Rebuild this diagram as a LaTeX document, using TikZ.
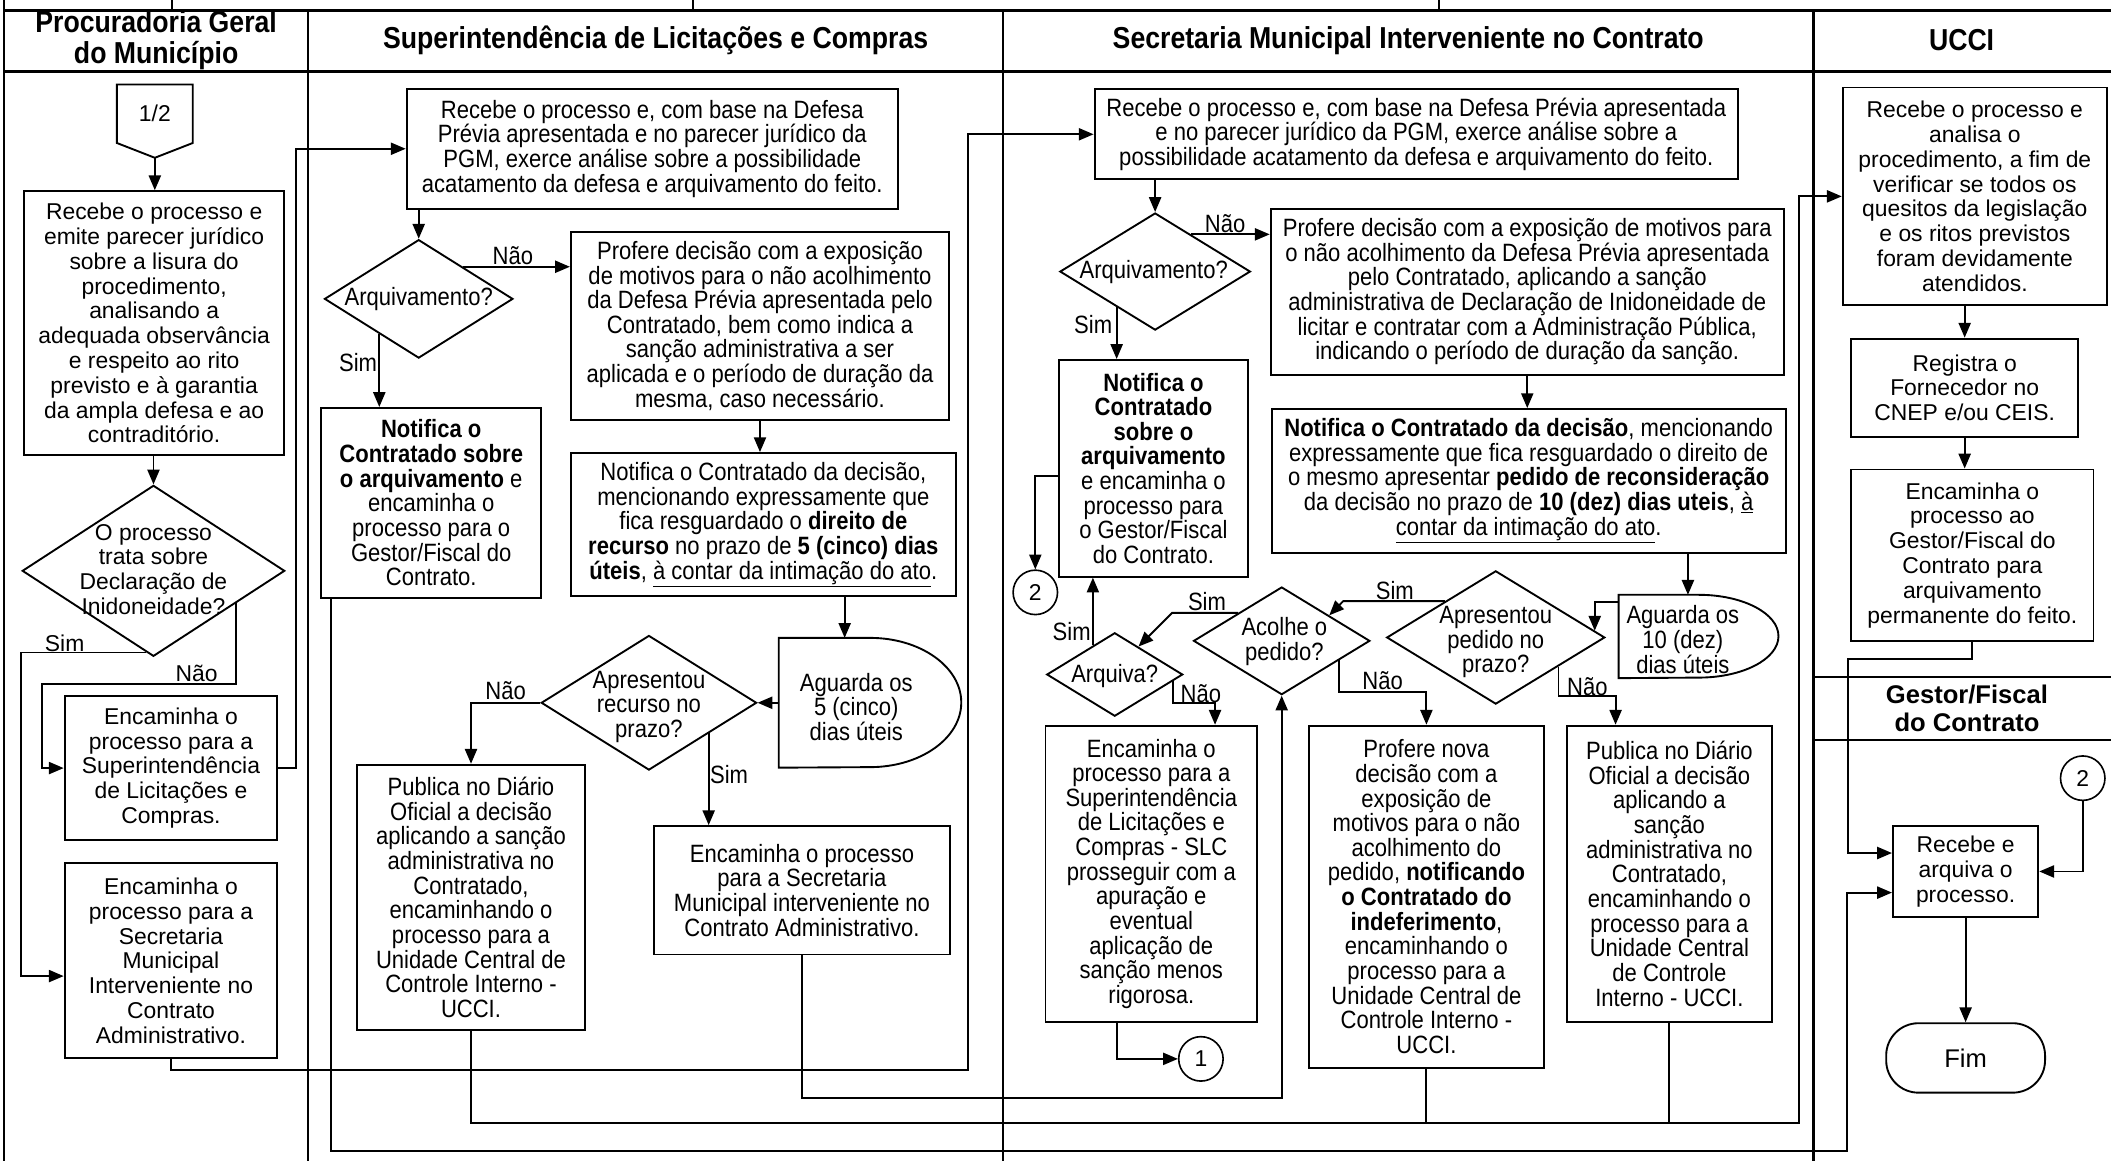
\documentclass[tikz,border=0pt]{standalone}
\usepackage{fontspec}
\setmainfont{Liberation Sans}
\newfontfamily\narrowfont[FakeStretch=0.88]{Liberation Sans}
\usetikzlibrary{arrows.meta,shapes.geometric,calc}
\newcommand\rfont{\fontsize{17}{18.4}\selectfont\lineskiplimit=-100pt\relax}
\newcommand\nfont{\narrowfont\fontsize{18.6}{18.3}\selectfont\lineskiplimit=-100pt\relax}
\newcommand\hfont{\narrowfont\bfseries\fontsize{22.5}{23}\selectfont\lineskiplimit=-100pt\relax}
\newcommand\gfont{\bfseries\fontsize{19}{21}\selectfont\lineskiplimit=-100pt\relax}
\tikzset{
  ln/.style={line width=1.4pt},
  box/.style={draw, rectangle, line width=1.4pt, inner sep=0pt, align=center, font=\nfont},
  pbox/.style={box, font=\rfont},
  dia/.style={draw, diamond, line width=1.4pt, inner sep=0pt},
  txt/.style={inner sep=0pt, align=center, font=\nfont},
  ptxt/.style={txt, font=\rfont},
  lbl/.style={inner sep=0pt, font=\nfont},
  plbl/.style={inner sep=0pt, font=\rfont},
  arr/.style={line width=1.4pt, -{Triangle[length=11pt,width=9pt]}},
  con/.style={line width=1.4pt},
  conn/.style={draw, circle, line width=1.2pt, minimum size=33pt, inner sep=0pt, font=\rfont},
  lane/.style={line width=1.5pt},
  hdrline/.style={line width=2pt},
}
\begin{document}
\begin{tikzpicture}[x=1pt,y=-1pt]
\useasboundingbox (0,0) rectangle (1568,862);
\fill[white] (0,0) rectangle (1568,862);

% ---------- swimlane frame ----------
\draw[hdrline] (3,8) -- (1568,8);
\draw[hdrline] (3,53) -- (1568,53);
\draw[lane] (3,0) -- (3,862);
\draw[lane] (128,0) -- (128,8);
\draw[lane] (515,0) -- (515,8);
\draw[lane] (1069,0) -- (1069,8);
\draw[lane] (229,8) -- (229,862);
\draw[lane] (745,8) -- (745,862);
\draw[lane] (1347,8) -- (1347,862);
\draw[lane] (1347,503) -- (1568,503);
\draw[lane] (1347,550) -- (1568,550);

\node[font=\hfont, align=center, inner sep=0pt] (hpgm) at (116,30) {Procuradoria Geral\\do Município};
\node[font=\hfont, inner sep=0pt] (hslc) at (487,30) {Superintendência de Licitações e Compras};
\node[font=\hfont, inner sep=0pt] (hsec) at (1046,30) {Secretaria Municipal Interveniente no Contrato};
\node[font=\hfont, inner sep=0pt] (hucci) at (1457,30) {UCCI};
\node[font=\gfont, align=center, inner sep=0pt] (hges) at (1461,526) {Gestor/Fiscal\\do Contrato};

% ---------- Procuradoria Geral do Município ----------
\node[inner sep=0pt, minimum width=56pt, minimum height=43pt, font=\rfont] (off12) at (115,84.5) {1/2};
\coordinate (off12tip) at ($(off12.south)+(0,11)$);
\draw[ln] (off12.north west) -- (off12.north east) -- (off12.south east) -- (off12tip) -- (off12.south west) -- cycle;

\node[pbox, minimum width=193pt, minimum height=196pt] (pgm1) at (114.5,240)
  {Recebe o processo e\\emite parecer jurídico\\sobre a lisura do\\procedimento,\\analisando a\\adequada observância\\e respeito ao rito\\previsto e à garantia\\da ampla defesa e ao\\contraditório.};
\node[dia, minimum width=195pt, minimum height=127pt] (d1) at (114,424) {};
\node[ptxt] (d1t) at (114,423) {O processo\\trata sobre\\Declaração de\\Inidoneidade?};
\node[pbox, minimum width=158pt, minimum height=107pt] (pgm2) at (127,570.5)
  {Encaminha o\\processo para a\\Superintendência\\de Licitações e\\Compras.};
\node[pbox, minimum width=158pt, minimum height=145pt] (pgm3) at (127,713.5)
  {Encaminha o\\processo para a\\Secretaria\\Municipal\\Interveniente no\\Contrato\\Administrativo.};
\node[plbl] (lpgm1) at (48,477.6) {Sim};
\node[plbl] (lpgm2) at (146,500) {Não};

% ---------- Superintendência de Licitações e Compras ----------
\node[box, minimum width=365pt, minimum height=89pt] (slc1) at (484.5,110.5)
  {Recebe o processo e, com base na Defesa\\Prévia apresentada e no parecer jurídico da\\PGM, exerce análise sobre a possibilidade\\acatamento da defesa e arquivamento do feito.};
\node[dia, minimum width=140pt, minimum height=88pt] (slcd1) at (311,222) {};
\node[txt] (slcd1t) at (311,222) {Arquivamento?};
\node[box, minimum width=281pt, minimum height=140pt] (slc2) at (564.5,242)
  {Profere decisão com a exposição\\de motivos para o não acolhimento\\da Defesa Prévia apresentada pelo\\Contratado, bem como indica a\\sanção administrativa a ser\\aplicada e o período de duração da\\mesma, caso necessário.};
\node[box, minimum width=163.4pt, minimum height=141pt] (slc3) at (320.3,373.5)
  {\textbf{Notifica o}\\\textbf{Contratado sobre}\\\textbf{o arquivamento} e\\encaminha o\\processo para o\\Gestor/Fiscal do\\Contrato.};
\node[box, minimum width=286pt, minimum height=106.5pt] (slc4) at (567,389.75)
  {Notifica o Contratado da decisão,\\mencionando expressamente que\\fica resguardado o \textbf{direito de}\\\textbf{recurso} no prazo de \textbf{5 (cinco) dias}\\\textbf{úteis}, \underline{à contar da intimação do ato}.};
\node[inner sep=0pt, minimum width=135.4pt, minimum height=96pt] (slcw) at (646.3,522) {};
\draw[ln] (slcw.north west) -- (slcw.north) arc[start angle=90, end angle=-90, x radius=67.7pt, y radius=48pt] -- (slcw.south west) -- cycle;
\node[txt] (slcwt) at (636,525) {Aguarda os\\5 (cinco)\\dias úteis};
\node[dia, minimum width=160pt, minimum height=100pt] (slcd2) at (482,522) {};
\node[txt] (slcd2t) at (482,525) {Apresentou\\recurso no\\prazo?};
\node[box, minimum width=168.9pt, minimum height=197pt] (slcP) at (349.85,666.5)
  {Publica no Diário\\Oficial a decisão\\aplicando a sanção\\administrativa no\\Contratado,\\encaminhando o\\processo para a\\Unidade Central de\\Controle Interno -\\UCCI.};
\node[box, minimum width=219.4pt, minimum height=95.4pt] (slcE) at (595.7,661.3)
  {Encaminha o processo\\para a Secretaria\\Municipal interveniente no\\Contrato Administrativo.};
\node[lbl] (lslc1) at (381,190) {Não};
\node[lbl] (lslc2) at (266,269) {Sim};
\node[lbl] (lslc3) at (375.6,513) {Não};
\node[lbl] (lslc4) at (541.5,575) {Sim};

% ---------- Secretaria Municipal Interveniente no Contrato ----------
\node[box, minimum width=478pt, minimum height=67pt] (sec1) at (1052,99.75)
  {Recebe o processo e, com base na Defesa Prévia apresentada\\e no parecer jurídico da PGM, exerce análise sobre a\\possibilidade acatamento da defesa e arquivamento do feito.};
\node[dia, minimum width=141.5pt, minimum height=87pt] (secd1) at (858,201.7) {};
\node[txt] (secd1t) at (857,201.7) {Arquivamento?};
\node[box, minimum width=381.2pt, minimum height=123.5pt] (sec2) at (1134.4,216.75)
  {Profere decisão com a exposição de motivos para\\o não acolhimento da Defesa Prévia apresentada\\pelo Contratado, aplicando a sanção\\administrativa de Declaração de Inidoneidade de\\licitar e contratar com a Administração Pública,\\indicando o período de duração da sanção.};
\node[box, minimum width=140.5pt, minimum height=161pt] (sec3) at (856.75,347.85)
  {\textbf{Notifica o}\\\textbf{Contratado}\\\textbf{sobre o}\\\textbf{arquivamento}\\e encaminha o\\processo para\\o Gestor/Fiscal\\do Contrato.};
\node[box, minimum width=381.9pt, minimum height=106.7pt] (sec4) at (1135.45,357.15)
  {\textbf{Notifica o Contratado da decisão}, mencionando\\expressamente que fica resguardado o direito de\\o mesmo apresentar \textbf{pedido de reconsideração}\\da decisão no prazo de \textbf{10 (dez) dias uteis}, \underline{à}\\\underline{contar da intimação do ato}.};
\node[inner sep=0pt, minimum width=118.5pt, minimum height=61.5pt] (secw) at (1261.75,472.75) {};
\draw[ln] (secw.north west) -- (secw.north) arc[start angle=90, end angle=-90, x radius=59.25pt, y radius=30.75pt] -- (secw.south west) -- cycle;
\node[txt] (secwt) at (1250,475) {Aguarda os\\10 (dez)\\dias úteis};
\node[dia, minimum width=162pt, minimum height=99pt] (secd2) at (1111,473.5) {};
\node[txt] (secd2t) at (1111,477) {Apresentou\\pedido no\\prazo?};
\node[dia, minimum width=131pt, minimum height=80pt] (secd3) at (952,476) {};
\node[txt] (secd3t) at (954,476.5) {Acolhe o\\pedido?};
\node[dia, minimum width=101pt, minimum height=62pt] (secd4) at (828,501) {};
\node[txt] (secd4t) at (828,502) {Arquiva?};
\node[box, minimum width=157.1pt, minimum height=220pt] (secE) at (855.15,649)
  {Encaminha o\\processo para a\\Superintendência\\de Licitações e\\Compras - SLC\\prosseguir com a\\apuração e\\eventual\\aplicação de\\sanção menos\\rigorosa.};
\node[box, minimum width=175pt, minimum height=254pt] (secN) at (1059.5,666)
  {Profere nova\\decisão com a\\exposição de\\motivos para o não\\acolhimento do\\pedido, \textbf{notificando}\\\textbf{o Contratado do}\\\textbf{indeferimento},\\encaminhando o\\processo para a\\Unidade Central de\\Controle Interno -\\UCCI.};
\node[box, minimum width=152pt, minimum height=220pt] (secP) at (1240,649)
  {Publica no Diário\\Oficial a decisão\\aplicando a\\sanção\\administrativa no\\Contratado,\\encaminhando o\\processo para a\\Unidade Central\\de Controle\\Interno - UCCI.};
\node[conn] (c1) at (892,786.5) {1};
\node[conn] (c2) at (769,440) {2};
\node[lbl] (lsec1) at (910,166) {Não};
\node[lbl] (lsec2) at (812,241) {Sim};
\node[lbl] (lsec3) at (1036,439) {Sim};
\node[lbl] (lsec4) at (1179,510) {Não};
\node[lbl] (lsec5) at (1027,505.5) {Não};
\node[lbl] (lsec6) at (896.5,446.5) {Sim};
\node[lbl] (lsec7) at (796,469) {Sim};
\node[lbl] (lsec8) at (892,515) {Não};

% ---------- UCCI and Gestor/Fiscal ----------
\node[pbox, minimum width=196.3pt, minimum height=161.7pt] (u1) at (1466.85,145.85)
  {Recebe o processo e\\analisa o\\procedimento, a fim de\\verificar se todos os\\quesitos da legislação\\e os ritos previstos\\foram devidamente\\atendidos.};
\node[pbox, minimum width=168.6pt, minimum height=73pt] (u2) at (1459.3,288)
  {Registra o\\Fornecedor no\\CNEP e/ou CEIS.};
\node[pbox, minimum width=180pt, minimum height=127.3pt] (u3) at (1465,412.35)
  {Encaminha o\\processo ao\\Gestor/Fiscal do\\Contrato para\\arquivamento\\permanente do feito.};
\node[pbox, minimum width=108pt, minimum height=67.4pt] (g1) at (1460,647.3)
  {Recebe e\\arquiva o\\processo.};
\node[draw, rectangle, rounded corners=24pt, line width=1.4pt, minimum width=118pt, minimum height=51.6pt, inner sep=0pt, font=\rfont\fontsize{19}{21}\selectfont] (fim) at (1460,785.8) {Fim};
\node[conn] (c2b) at (1547,578) {2};

% ---------- connectors: Procuradoria ----------
\draw[arr] (off12tip) -- (off12tip |- pgm1.north);
\draw[arr] (pgm1.south -| d1.north) -- (d1.north);
\coordinate (d1sim) at ($(d1.south)!0.055!(d1.west)$);
\coordinate (d1no) at ($(d1.east)!0.376!(d1.south)$);
\coordinate (pgm3in) at ($(pgm3.west)+(0,11.5)$);
\draw[arr] (d1sim) -- ++(-93.2,0) |- (pgm3in);
\draw[arr] (d1no) |- (31.4,508) |- (pgm2.west);
\draw[arr] (pgm2.east) -- ++(13,0) |- (slc1.west);
\draw[arr] (pgm3.south) |- (719,795) |- (sec1.west);

% ---------- connectors: Superintendência ----------
\draw[arr] (slc1.south -| slcd1.north) -- (slcd1.north);
\coordinate (slcd1no) at ($(slcd1.north)!0.466!(slcd1.east)$);
\draw[arr] (slcd1no) -- (slcd1no -| slc2.west);
\coordinate (slcd1sim) at ($(slcd1.west)!0.586!(slcd1.south)$);
\draw[arr] (slcd1sim) -- (slcd1sim |- slc3.north);
\draw[arr] (slc2.south) -- (slc2.south |- slc4.north);
\coordinate (slcwin) at ($(slcw.north)+(-18.9,0)$);
\draw[arr] (slc4.south -| slcwin) -- (slcwin);
\draw[arr] (slcw.west) -- (slcd2.east);
\draw[arr] (slcd2.west) -| (slcP.north);
\coordinate (slcd2sim) at ($(slcd2.east)!0.45!(slcd2.south)$);
\draw[arr] (slcd2sim) -- (slcd2sim |- slcE.north);

% ---------- connectors: Secretaria ----------
\draw[arr] (sec1.south -| secd1.north) -- (secd1.north);
\coordinate (secd1no) at ($(secd1.north)!0.375!(secd1.east)$);
\draw[arr] (secd1no) -- (secd1no -| sec2.west);
\coordinate (secd1sim) at ($(secd1.west)!0.6!(secd1.south)$);
\draw[arr] (secd1sim) -- (secd1sim |- sec3.north);
\draw[arr] (sec2.south) -- (sec2.south |- sec4.north);
\coordinate (secwin) at ($(secw.north)+(-8,0)$);
\draw[arr] (sec4.south -| secwin) -- (secwin);
\coordinate (secwout) at ($(secw.west)+(0,-25.75)$);
\coordinate (secd2in) at ($(secd2.north)!0.9!(secd2.east)$);
\draw[arr] (secwout) -| (secd2in);
\coordinate (secd2sim) at ($(secd2.north)!0.463!(secd2.west)$);
\coordinate (secd3in) at ($(secd3.north)!0.534!(secd3.east)$);
\draw[arr] (secd2sim) -- ++(-75.5,0) -- (secd3in);
\coordinate (secd2no) at ($(secd2.east)!0.43!(secd2.south)$);
\coordinate (secPin) at ($(secP.north)+(-40,0)$);
\draw[arr] (secd2no) -- ++(0,22.2) -| (secPin);
\coordinate (secd3no) at ($(secd3.east)!0.357!(secd3.south)$);
\draw[arr] (secd3no) -- ++(0,23.7) -| (secN.north);
\coordinate (secd3sim) at ($(secd3.north)!0.49!(secd3.west)$);
\coordinate (secd4in) at ($(secd4.north)!0.345!(secd4.east)$);
\draw[arr] (secd3sim) -- ++(-49,0) -- (secd4in);
\coordinate (secd4sim) at ($(secd4.north)!0.317!(secd4.west)$);
\draw[arr] (secd4sim) -- (secd4sim |- sec3.south);
\coordinate (secd4no) at ($(secd4.east)!0.15!(secd4.south)$);
\coordinate (secEin) at ($(secE.north)+(47.35,0)$);
\draw[arr] (secd4no) -- ++(0,16.4) -| (secEin);
\coordinate (secEout) at ($(secE.south)+(-25.45,0)$);
\draw[arr] (secEout) |- (c1.west);
\coordinate (sec3out) at ($(sec3.west)+(0,5.75)$);
\draw[arr] (sec3out) -| (c2.north);
\draw[arr] (slcE.south) -- ++(0,105.7) -| (secd3.south);

% ---------- connectors: to UCCI and Gestor/Fiscal ----------
\coordinate (busC) at (1336,834);
\coordinate (busB) at (1371.6,855);
\coordinate (slc3out) at ($(slc3.south west)+(8,0)$);
\coordinate (g1in1) at ($(g1.west)+(0,-13.7)$);
\coordinate (g1in2) at ($(g1.west)+(0,15.7)$);
\draw[arr] (slc3out) |- (busB) |- (g1in2);
\draw[arr] (slcP.south) |- (busC) |- (u1.west);
\draw[con] (secN.south) -- (secN.south |- busC);
\draw[con] (secP.south) -- (secP.south |- busC);
\draw[arr] (u1.south -| u2.north) -- (u2.north);
\draw[arr] (u2.south) -- (u2.south |- u3.north);
\draw[arr] (u3.south) -- ++(0,12.5) -- ++(-92.6,0) |- (g1in1);
\draw[arr] (c2b.south) |- (g1.east);
\draw[arr] (g1.south) -- (fim.north);
\end{tikzpicture}
\end{document}
